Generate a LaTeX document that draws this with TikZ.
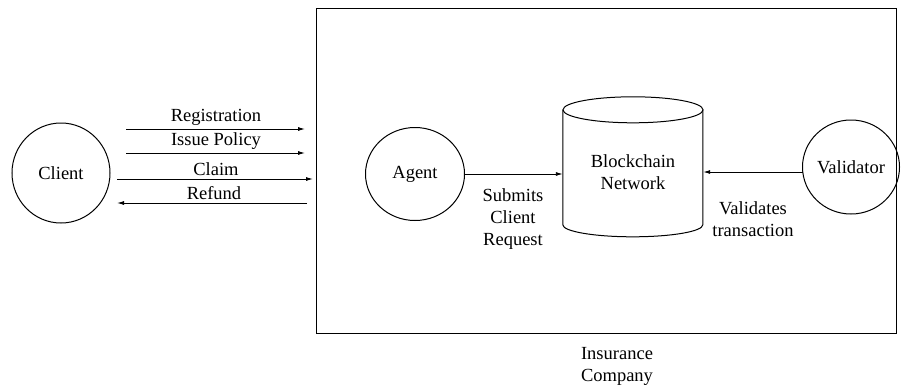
\documentclass[tikz,border=0pt]{standalone}
\usepackage{fontspec}
\setmainfont{Liberation Serif}
\usetikzlibrary{shapes.geometric,arrows.meta}
\begin{document}
\begin{tikzpicture}[x=1pt,y=-1pt,
  txt/.style={font=\fontsize{18.5}{22}\selectfont, inner sep=0pt, align=center},
  ell/.style={draw, ellipse, line width=1pt, inner sep=0pt, font=\fontsize{18.5}{22}\selectfont},
  conn/.style={line width=0.9pt, -{Latex[length=7pt,width=4pt]}},
  cyl/.style={line width=1pt}]
\useasboundingbox (0,0) rectangle (904,391);
% company box
\node[draw, line width=1pt, minimum width=580pt, minimum height=325pt, inner sep=0pt] (box) at (606,170.5) {};
\node[txt] (ictext) at (617,366) {Insurance\\Company};
% client
\node[ell, minimum width=98pt, minimum height=100pt] (client) at (61,173) {Client};
\coordinate (r1s) at (126,129); \coordinate (r1e) at (305,129);
\coordinate (r2s) at (126,153); \coordinate (r2e) at (305,153);
\coordinate (r3s) at (117,179); \coordinate (r3e) at (313,179);
\coordinate (r4s) at (307,203); \coordinate (r4e) at (117,203);
\draw[conn] (r1s) -- (r1e);
\draw[conn] (r2s) -- (r2e);
\draw[conn] (r3s) -- (r3e);
\draw[conn] (r4s) -- (r4e);
\node[txt] (lreg) at (216,117) {Registration};
\node[txt] (liss) at (216,141) {Issue Policy};
\node[txt] (lcla) at (216,169) {Claim};
\node[txt] (lref) at (214,193) {Refund};
% agent
\node[ell, minimum width=99pt, minimum height=93pt] (agent) at (415,174) {Agent};
% blockchain (cylinder drawn around an invisible node)
\node[minimum width=140pt, minimum height=140pt, inner sep=0pt] (bc) at (633,167) {};
\draw[cyl] (bc.north) ++(0,13) ellipse [x radius=70, y radius=13];
\draw[cyl] (bc.north west) ++(0,13) -- ++(0,115)
  arc [start angle=180, end angle=0, x radius=70, y radius=12] -- ++(0,-115);
\node[txt] (bctext) at (633,172) {Blockchain\\Network};
% validator
\node[ell, minimum width=97pt, minimum height=94pt] (val) at (851,167) {Validator};
\draw[conn] (agent.east) -- (agent.east -| bc.west);
\coordinate (vs) at (803,172);
\draw[conn] (vs) -- (vs -| bc.east);
\node[txt] (lsub) at (513,219) {Submits\\Client\\Request};
\node[txt] (lval) at (753,219) {Validates\\transaction};
\end{tikzpicture}
\end{document}
